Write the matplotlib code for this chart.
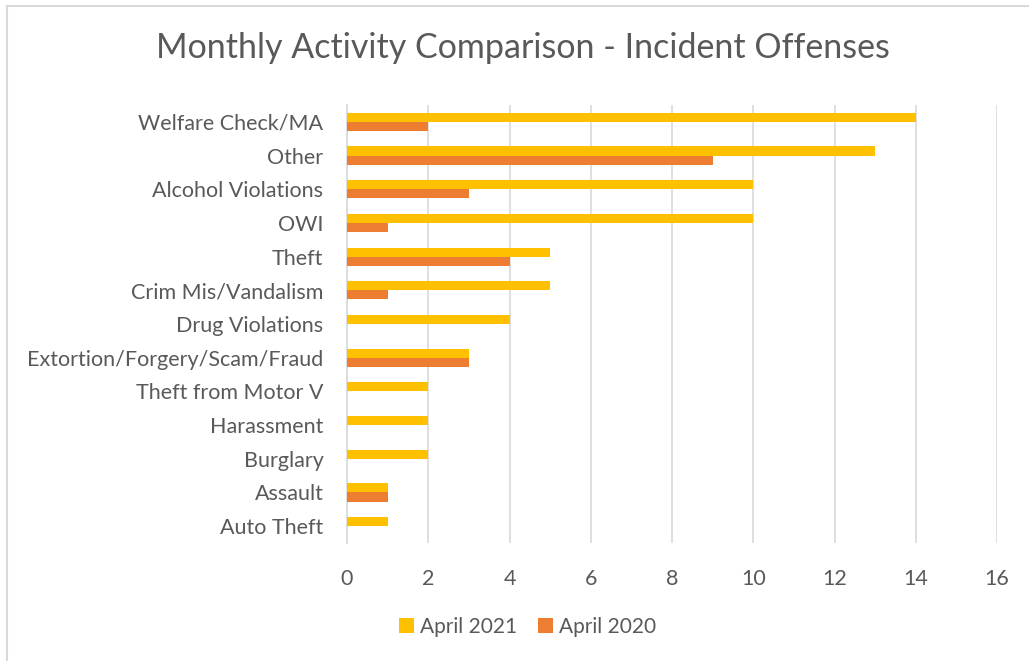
import numpy as np
import matplotlib
matplotlib.use("Agg")
import matplotlib.pyplot as plt
from matplotlib.lines import Line2D

plt.rcParams['font.family'] = ['Lato', 'DejaVu Sans']

categories = [
    'Welfare Check/MA', 'Other', 'Alcohol Violations', 'OWI', 'Theft',
    'Crim Mis/Vandalism', 'Drug Violations', 'Extortion/Forgery/Scam/Fraud',
    'Theft from Motor V', 'Harassment', 'Burglary', 'Assault', 'Auto Theft',
]
april_2021 = [14, 13, 10, 10, 5, 5, 4, 3, 2, 2, 2, 1, 1]
april_2020 = [2, 9, 3, 1, 4, 1, 0, 3, 0, 0, 0, 1, 0]
x_ticks = [0, 2, 4, 6, 8, 10, 12, 14, 16]

TEXT = '#595959'
GRID = '#d9d9d9'
YELLOW = '#ffc000'
ORANGE = '#ed7d31'

W, H = 1029, 661
fig = plt.figure(figsize=(W / 100, H / 100), dpi=100)
ax = fig.add_axes([347 / W, 1 - 543 / H, 650 / W, 438 / H])

# chart border (only left and top edges are in frame)
fig.lines.append(Line2D([7 / W, 7 / W], [0, 1 - 6 / H], transform=fig.transFigure,
                        color=GRID, linewidth=1.5))
fig.lines.append(Line2D([7 / W, 1], [1 - 6 / H, 1 - 6 / H], transform=fig.transFigure,
                        color=GRID, linewidth=1.5))

y = np.arange(len(categories))
h = 0.27
ax.barh(y - h / 2, april_2021, height=h, color=YELLOW, label='April 2021', zorder=3)
ax.barh(y + h / 2, april_2020, height=h, color=ORANGE, label='April 2020', zorder=3)

ax.set_ylim(len(categories) - 0.5, -0.5)
ax.set_xlim(0, 16)
ax.set_xticks(x_ticks)
ax.set_yticks(y)
ax.set_yticklabels(categories)
ax.tick_params(axis='both', length=0, colors=TEXT, labelsize=15.5)
ax.tick_params(axis='y', pad=17)
ax.tick_params(axis='x', pad=19)
ax.grid(axis='x', color=GRID, linewidth=1.2, zorder=0)
for s in ['top', 'right', 'bottom']:
    ax.spines[s].set_visible(False)
ax.spines['left'].set_color(GRID)
ax.spines['left'].set_linewidth(1.2)

fig.text(522.5 / W, 1 - 48 / H, 'Monthly Activity Comparison - Incident Offenses',
         ha='center', va='center', fontsize=24.5, color=TEXT)

fig.legend(loc='center', bbox_to_anchor=(527.5 / W, 1 - 627 / H), ncol=2, frameon=False,
           fontsize=15, labelcolor=TEXT, handlelength=0.7, handleheight=0.7,
           handletextpad=0.3, columnspacing=1.0)

fig.savefig('out.png', dpi=100)
